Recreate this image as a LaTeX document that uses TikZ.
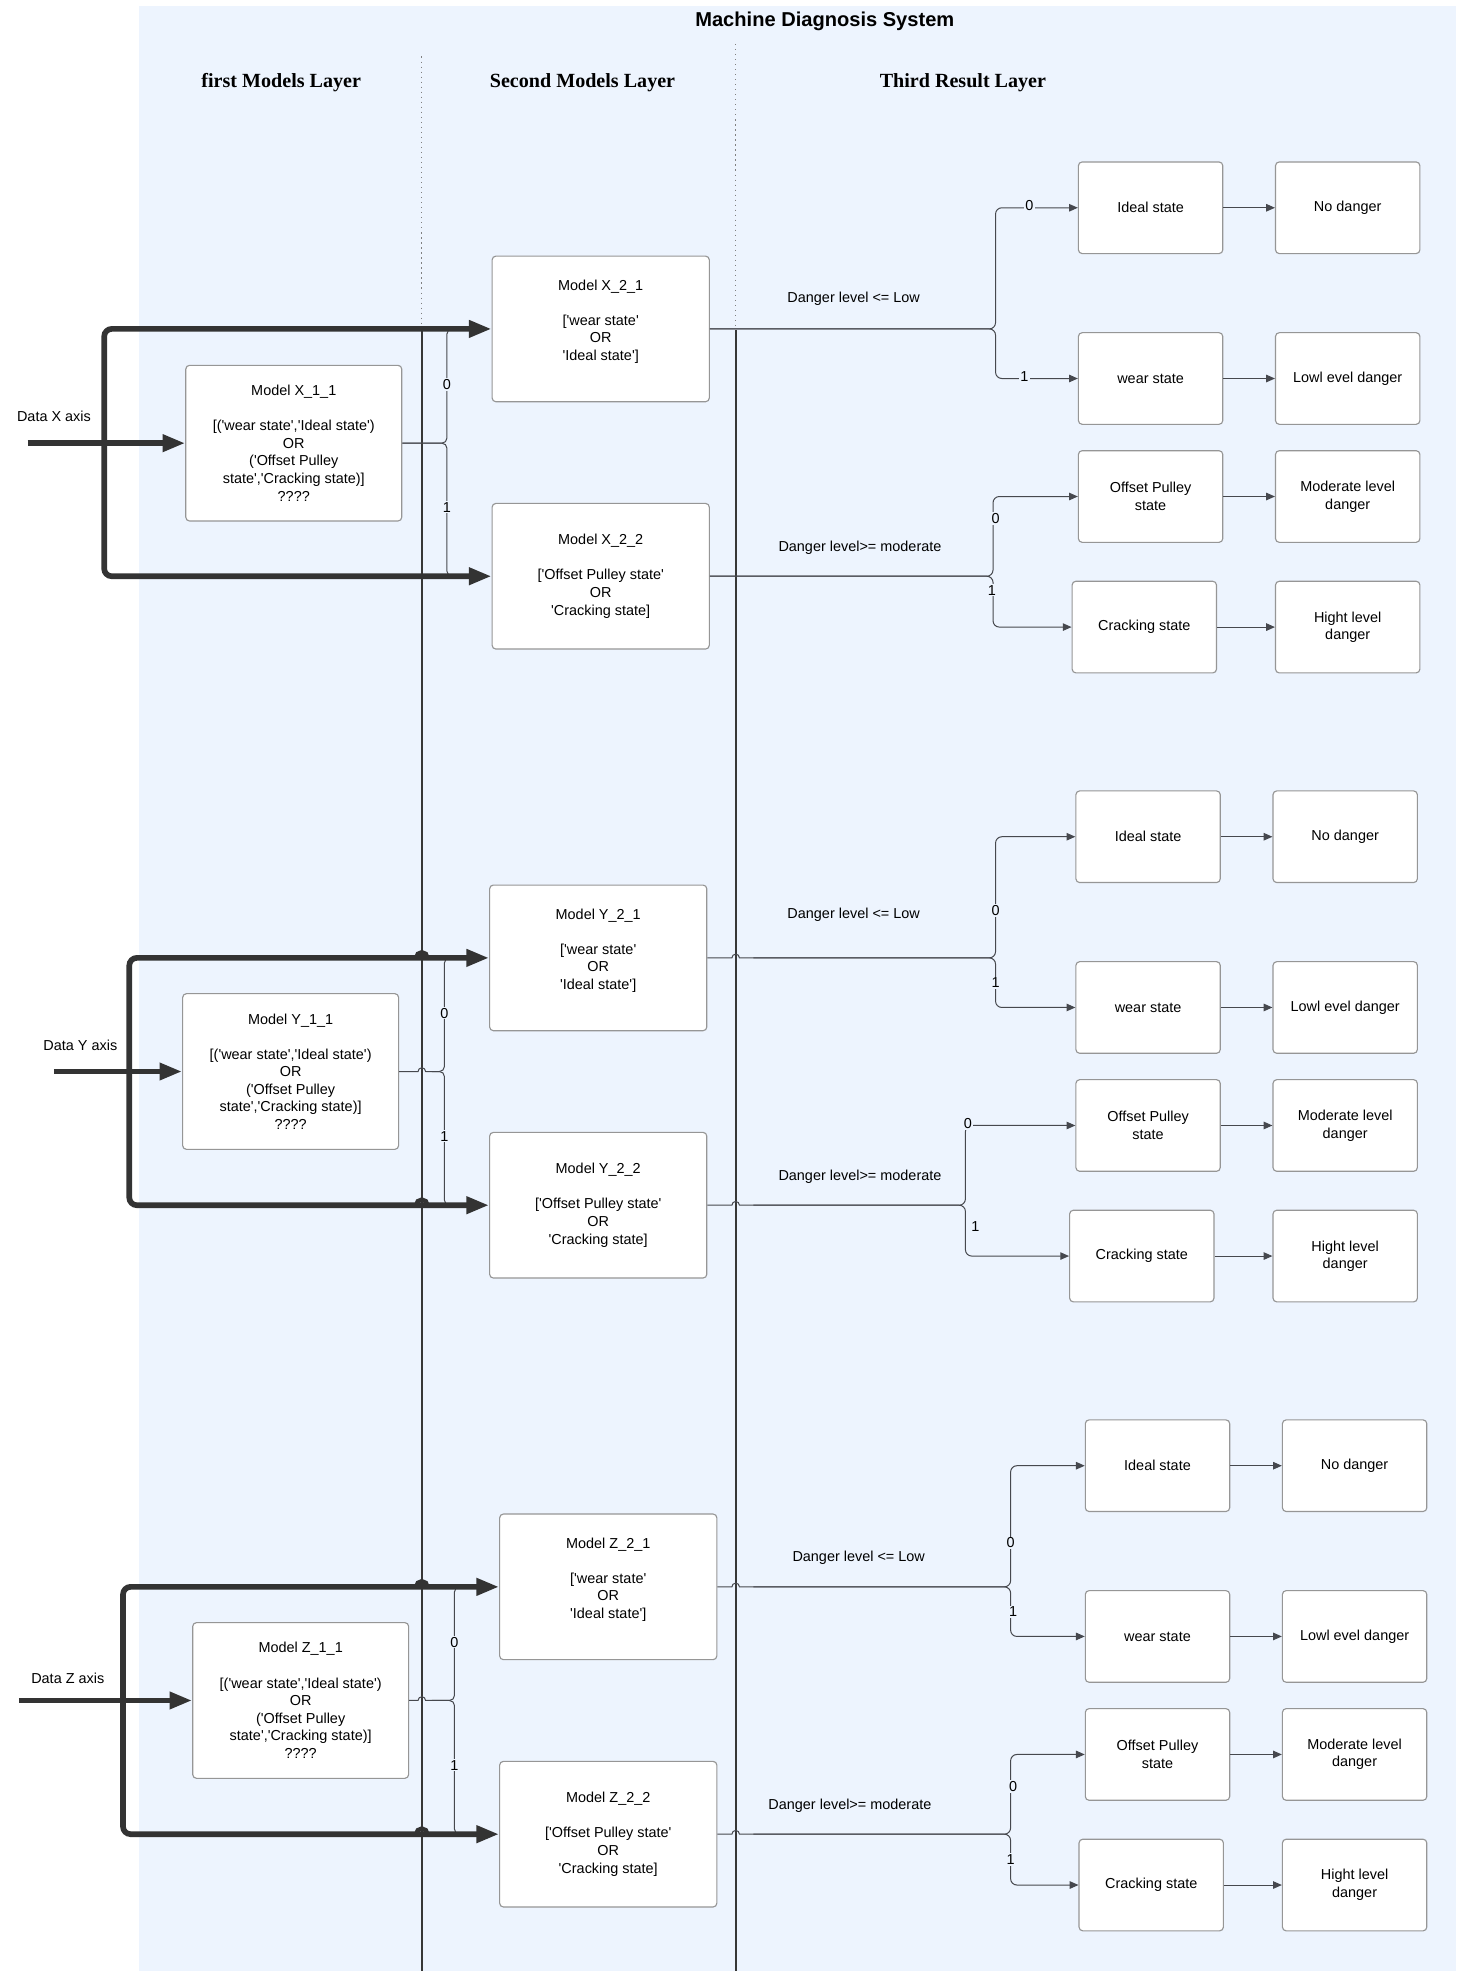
\documentclass[tikz,border=0pt]{standalone}
\usepackage{fontspec}
\newfontfamily\lsans{Liberation Sans}
\newfontfamily\lserif{Liberation Serif}
\usetikzlibrary{arrows.meta}
\definecolor{bgc}{RGB}{237,244,254}
\definecolor{boxc}{RGB}{150,150,150}
\definecolor{linec}{RGB}{70,72,78}
\definecolor{thickc}{RGB}{51,51,51}
\definecolor{sepc}{RGB}{55,55,55}
\newcommand{\bfnt}{\lsans\fontsize{11.5}{14}\selectfont}
\tikzset{
  basebox/.style={draw=boxc, fill=white, rounded corners=3pt, line width=0.9pt, align=center, font=\bfnt, inner sep=0pt},
  fbox/.style={basebox, minimum width=172pt, minimum height=124pt},
  mbox/.style={basebox, minimum width=173pt, minimum height=116pt},
  rbox/.style={basebox, minimum width=115pt, minimum height=73pt},
  bigarrow/.style={draw=thickc, line width=4.5pt, -{Triangle[length=18pt,width=13pt]}},
  hopstyle/.style={draw=thickc, line width=3.5pt},
  thinline/.style={draw=linec, line width=0.8pt},
  thinarrow/.style={thinline, -{Triangle[length=7pt,width=6pt]}},
  lbl/.style={font=\bfnt, fill=bgc, inner sep=1pt},
  plain/.style={font=\bfnt, inner sep=1pt},
  sepline/.style={draw=sepc, line width=1.8pt},
  dotline/.style={draw=gray, line width=1pt, dash pattern=on 1pt off 3pt},
  header/.style={font=\lserif\bfseries\fontsize{16}{19}\selectfont}
}
\begin{document}
\begin{tikzpicture}[x=1pt,y=-1pt]
\useasboundingbox (0,0) rectangle (1160,1570);
\fill[bgc] (111,5) rectangle (1160,1570);
\node[font=\lsans\bfseries\fontsize{16}{19}\selectfont] (title) at (657,17) {Machine Diagnosis System};
\node[header] (h1) at (224,66) {first Models Layer};
\node[header] (h2) at (464,66) {Second Models Layer};
\node[header] (h3) at (767,66) {Third Result Layer};
% separators
\coordinate (s1t) at (336,45); \coordinate (s1m) at (336,263); \coordinate (s1b) at (336,1570);
\coordinate (s2t) at (586,35); \coordinate (s2m) at (586,263); \coordinate (s2b) at (586,1570);
\draw[dotline] (s1t) -- (s1m);
\draw[dotline] (s2t) -- (s2m);
\draw[sepline] (s1m) -- (s1b);
\draw[sepline] (s2m) -- (s2b);

% ================= X =================
\node[fbox] (X11) at (234,353) {Model X\_1\_1\\\mbox{}\\{}[('wear state','Ideal state')\\OR\\('Offset Pulley\\state','Cracking state)]\\????};
\node[mbox] (X21) at (478.5,262) {Model X\_2\_1\\\mbox{}\\{}['wear state'\\OR\\'Ideal state']\\\mbox{}};
\node[mbox] (X22) at (478.5,459) {Model X\_2\_2\\\mbox{}\\{}['Offset Pulley state'\\OR\\'Cracking state]};
\node[rbox] (XId) at (916.5,165.5) {Ideal state};
\node[rbox] (XNo) at (1073.5,165.5) {No danger};
\node[rbox] (XWe) at (916.5,301.5) {wear state};
\node[rbox] (XLo) at (1073.5,301.5) {Lowl evel danger};
\node[rbox] (XOf) at (916.5,395.5) {Offset Pulley\\state};
\node[rbox] (XMo) at (1073.5,395.5) {Moderate level\\danger};
\node[rbox] (XCr) at (911.5,499.5) {Cracking state};
\node[rbox] (XHi) at (1073.5,499.5) {Hight level\\danger};
\node[plain] (XData) at (43,332) {Data X axis};
\node[plain] (XDl) at (680,238) {Danger level <= Low};
\node[plain] (XDm) at (685,436) {Danger level>= moderate};

\draw[thinline, rounded corners=4pt] (X11.east) -- (356,353) -- (356,262) -- (362,262);
\draw[thinline, rounded corners=4pt] (X11.east) -- (356,353) -- (356,459) -- (362,459);
\draw[thinarrow, rounded corners=5pt] (X21.east) -- (793,262) -- (793,165.5) -- (XId.west);
\draw[thinarrow, rounded corners=5pt] (X21.east) -- (793,262) -- (793,301.5) -- (XWe.west);
\draw[thinarrow, rounded corners=5pt] (X22.east) -- (791,459) -- (791,395.5) -- (XOf.west);
\draw[thinarrow, rounded corners=5pt] (X22.east) -- (791,459) -- (791,499.5) -- (XCr.west);
\draw[thinarrow] (XId) -- (XNo);
\draw[thinarrow] (XWe) -- (XLo);
\draw[thinarrow] (XOf) -- (XMo);
\draw[thinarrow] (XCr) -- (XHi);
\node[lbl] (Xb0) at (356,306) {0};
\node[lbl] (Xb1) at (356,404) {1};
\node[lbl] (Xr0) at (820,164) {0};
\node[lbl] (Xr1) at (816,300) {1};
\node[lbl] (Xr2) at (793,413) {0};
\node[lbl] (Xr3) at (790,470) {1};
\coordinate (XinS) at (22,353);
\coordinate (XJ) at (83,353);
\draw[bigarrow] (XinS) -- (X11.west);
\draw[bigarrow, rounded corners=6pt] (XJ) -- (83,262) -- (X21.west);
\draw[bigarrow, rounded corners=6pt] (XJ) -- (83,459) -- (X22.west);

% ================= Y =================
\node[fbox] (Y11) at (231.5,853.5) {Model Y\_1\_1\\\mbox{}\\{}[('wear state','Ideal state')\\OR\\('Offset Pulley\\state','Cracking state)]\\????};
\node[mbox] (Y21) at (476.5,763) {Model Y\_2\_1\\\mbox{}\\{}['wear state'\\OR\\'Ideal state']\\\mbox{}};
\node[mbox] (Y22) at (476.5,960) {Model Y\_2\_2\\\mbox{}\\{}['Offset Pulley state'\\OR\\'Cracking state]};
\node[rbox] (YId) at (914.5,666.5) {Ideal state};
\node[rbox] (YNo) at (1071.5,666.5) {No danger};
\node[rbox] (YWe) at (914.5,802.5) {wear state};
\node[rbox] (YLo) at (1071.5,802.5) {Lowl evel danger};
\node[rbox] (YOf) at (914.5,896.5) {Offset Pulley\\state};
\node[rbox] (YMo) at (1071.5,896.5) {Moderate level\\danger};
\node[rbox] (YCr) at (909.5,1000.5) {Cracking state};
\node[rbox] (YHi) at (1071.5,1000.5) {Hight level\\danger};
\node[plain] (YData) at (64,833) {Data Y axis};
\node[plain] (YDl) at (680,729) {Danger level <= Low};
\node[plain] (YDm) at (685,937) {Danger level>= moderate};

\draw[thinline] (Y11.east) -- (333,853.5) arc[start angle=180,end angle=0,radius=3pt] -- (344,853.5) [rounded corners=4pt] -- (354,853.5) -- (354,763) -- (360,763);
\draw[thinline, rounded corners=4pt] (344,853.5) -- (354,853.5) -- (354,960) -- (360,960);
\draw[thinarrow] (Y21.east) -- (583,763) arc[start angle=180,end angle=0,radius=3pt] -- (600,763) [rounded corners=5pt] -- (793,763) -- (793,666.5) -- (YId.west);
\draw[thinarrow, rounded corners=5pt] (600,763) -- (793,763) -- (793,802.5) -- (YWe.west);
\draw[thinarrow] (Y22.east) -- (583,960) arc[start angle=180,end angle=0,radius=3pt] -- (600,960) [rounded corners=5pt] -- (769,960) -- (769,896.5) -- (YOf.west);
\draw[thinarrow, rounded corners=5pt] (600,960) -- (769,960) -- (769,1000.5) -- (YCr.west);
\draw[thinarrow] (YId) -- (YNo);
\draw[thinarrow] (YWe) -- (YLo);
\draw[thinarrow] (YOf) -- (YMo);
\draw[thinarrow] (YCr) -- (YHi);
\node[lbl] (Yb0) at (354,807) {0};
\node[lbl] (Yb1) at (354,905) {1};
\node[lbl] (Yr0) at (793,725) {0};
\node[lbl] (Yr1) at (793,783) {1};
\node[lbl] (Yr2) at (771,895) {0};
\node[lbl] (Yr3) at (777,977) {1};
\coordinate (YinS) at (43,853.5);
\coordinate (YJ) at (103,853.5);
\draw[bigarrow] (YinS) -- (Y11.west);
\draw[bigarrow, rounded corners=6pt] (YJ) -- (103,763) -- (Y21.west);
\draw[bigarrow, rounded corners=6pt] (YJ) -- (103,960) -- (Y22.west);
\draw[hopstyle] (331.5,763) arc[start angle=180,end angle=0,radius=4.5pt];
\draw[hopstyle] (331.5,960) arc[start angle=180,end angle=0,radius=4.5pt];

% ================= Z =================
\node[fbox] (Z11) at (239.5,1354.5) {Model Z\_1\_1\\\mbox{}\\{}[('wear state','Ideal state')\\OR\\('Offset Pulley\\state','Cracking state)]\\????};
\node[mbox] (Z21) at (484.5,1264) {Model Z\_2\_1\\\mbox{}\\{}['wear state'\\OR\\'Ideal state']\\\mbox{}};
\node[mbox] (Z22) at (484.5,1461) {Model Z\_2\_2\\\mbox{}\\{}['Offset Pulley state'\\OR\\'Cracking state]};
\node[rbox] (ZId) at (922,1167.5) {Ideal state};
\node[rbox] (ZNo) at (1079,1167.5) {No danger};
\node[rbox] (ZWe) at (922,1303.5) {wear state};
\node[rbox] (ZLo) at (1079,1303.5) {Lowl evel danger};
\node[rbox] (ZOf) at (922,1397.5) {Offset Pulley\\state};
\node[rbox] (ZMo) at (1079,1397.5) {Moderate level\\danger};
\node[rbox] (ZCr) at (917,1501.5) {Cracking state};
\node[rbox] (ZHi) at (1079,1501.5) {Hight level\\danger};
\node[plain] (ZData) at (54,1337) {Data Z axis};
\node[plain] (ZDl) at (684,1241) {Danger level <= Low};
\node[plain] (ZDm) at (677,1438) {Danger level>= moderate};

\draw[thinline] (Z11.east) -- (333,1354.5) arc[start angle=180,end angle=0,radius=3pt] -- (344,1354.5) [rounded corners=4pt] -- (362,1354.5) -- (362,1264) -- (368,1264);
\draw[thinline, rounded corners=4pt] (344,1354.5) -- (362,1354.5) -- (362,1461) -- (368,1461);
\draw[thinarrow] (Z21.east) -- (583,1264) arc[start angle=180,end angle=0,radius=3pt] -- (600,1264) [rounded corners=5pt] -- (805,1264) -- (805,1167.5) -- (ZId.west);
\draw[thinarrow, rounded corners=5pt] (600,1264) -- (805,1264) -- (805,1303.5) -- (ZWe.west);
\draw[thinarrow] (Z22.east) -- (583,1461) arc[start angle=180,end angle=0,radius=3pt] -- (600,1461) [rounded corners=5pt] -- (805,1461) -- (805,1397.5) -- (ZOf.west);
\draw[thinarrow, rounded corners=5pt] (600,1461) -- (805,1461) -- (805,1501.5) -- (ZCr.west);
\draw[thinarrow] (ZId) -- (ZNo);
\draw[thinarrow] (ZWe) -- (ZLo);
\draw[thinarrow] (ZOf) -- (ZMo);
\draw[thinarrow] (ZCr) -- (ZHi);
\node[lbl] (Zb0) at (362,1308) {0};
\node[lbl] (Zb1) at (362,1406) {1};
\node[lbl] (Zr0) at (805,1229) {0};
\node[lbl] (Zr1) at (807,1284) {1};
\node[lbl] (Zr2) at (807,1423) {0};
\node[lbl] (Zr3) at (805,1481) {1};
\coordinate (ZinS) at (15,1354.5);
\coordinate (ZJ) at (98,1354.5);
\draw[bigarrow] (ZinS) -- (Z11.west);
\draw[bigarrow, rounded corners=6pt] (ZJ) -- (98,1264) -- (Z21.west);
\draw[bigarrow, rounded corners=6pt] (ZJ) -- (98,1461) -- (Z22.west);
\draw[hopstyle] (331.5,1264) arc[start angle=180,end angle=0,radius=4.5pt];
\draw[hopstyle] (331.5,1461) arc[start angle=180,end angle=0,radius=4.5pt];
\end{tikzpicture}
\end{document}
